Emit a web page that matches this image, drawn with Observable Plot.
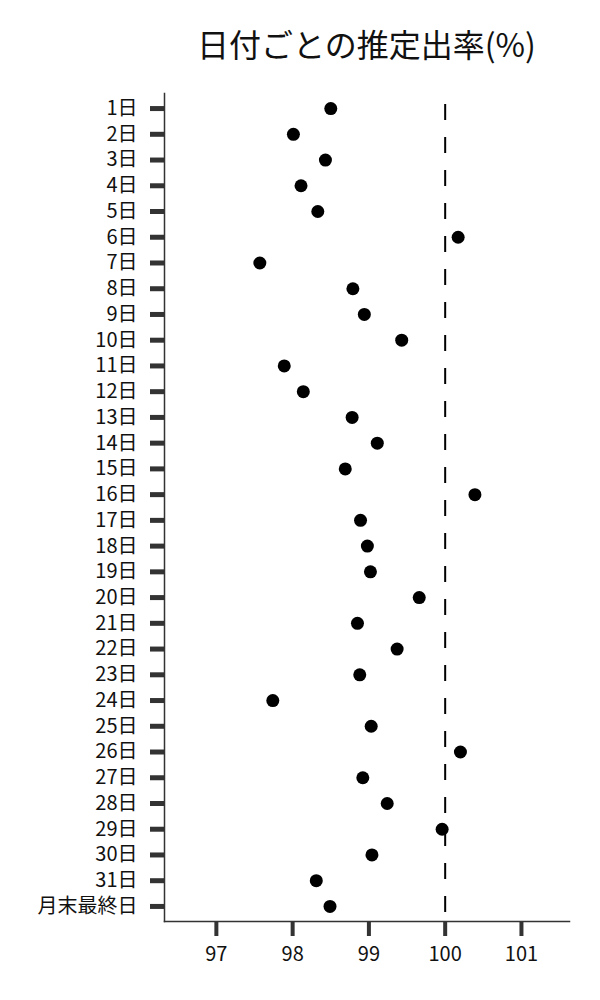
<!DOCTYPE html>
<html>
<head>
<meta charset="utf-8">
<script src="https://cdn.jsdelivr.net/npm/d3@7"></script>
<script src="https://cdn.jsdelivr.net/npm/@observablehq/plot@0.6"></script>
<style>
  body { margin: 0; background: #fff; font-family: "Noto Sans CJK JP", "Noto Sans", sans-serif; }
  #title { box-sizing: border-box; width: 600px; height: 80px; padding-left: 164px; padding-right: 31px; padding-top: 27px;
           text-align: center; font-size: 32px; line-height: 32px; color: #111; }
</style>
</head>
<body>
<div id="title">日付ごとの推定出率(%)</div>
<div id="chart"></div>
<script>
const days = ["1日","2日","3日","4日","5日","6日","7日","8日","9日","10日","11日","12日","13日","14日","15日","16日","17日","18日","19日","20日","21日","22日","23日","24日","25日","26日","27日","28日","29日","30日","31日","月末最終日"];
const rates = [98.50, 98.01, 98.43, 98.11, 98.33, 100.17, 97.57, 98.79, 98.94, 99.43, 97.89, 98.14, 98.78, 99.11, 98.69, 100.39, 98.89, 98.98, 99.02, 99.66, 98.85, 99.37, 98.88, 97.74, 99.03, 100.20, 98.92, 99.24, 99.96, 99.04, 98.31, 98.49];
const xTicks = [97, 98, 99, 100, 101];
const reference = [100];
const xDomain = [96.32, 101.63];

const data = days.map((d, i) => ({day: d, rate: rates[i]}));

const chart = Plot.plot({
  width: 600,
  height: 920,
  marginTop: 13,
  marginBottom: 79,
  marginLeft: 164,
  marginRight: 31,
  style: {fontFamily: "'Noto Sans CJK JP', sans-serif", fontSize: "20px", color: "#111", background: "#fff"},
  x: {domain: xDomain, axis: null, label: null},
  y: {type: "point", domain: days, padding: 0.585, round: false, axis: null, label: null},
  marks: [
    Plot.axisY({tickSize: 14, tickPadding: 13, stroke: "#333", strokeWidth: 5, fontSize: 20, fill: "#111", label: null}),
    Plot.axisX({ticks: xTicks, tickFormat: d3.format("d"), tickSize: 15, tickPadding: 10, stroke: "#333", strokeWidth: 4, fontSize: 20, fill: "#111", label: null}),
    Plot.frame({anchor: "left", stroke: "#333", strokeWidth: 1.5}),
    Plot.frame({anchor: "bottom", stroke: "#333", strokeWidth: 1.5}),
    Plot.ruleX(reference, {stroke: "#000", strokeWidth: 2, strokeDasharray: "16,17", insetTop: 11}),
    Plot.dot(data, {x: "rate", y: "day", r: 6.5, fill: "#000", stroke: "none"})
  ]
});
document.getElementById("chart").appendChild(chart);
</script>
</body>
</html>
